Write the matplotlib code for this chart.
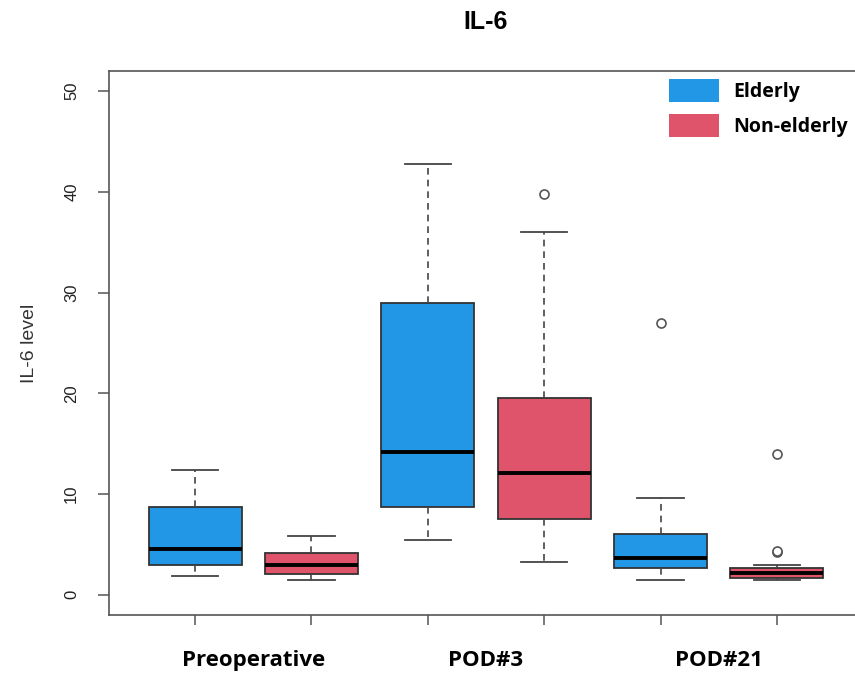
import matplotlib
matplotlib.use("Agg")
import matplotlib.pyplot as plt
from matplotlib.patches import Patch

# ---- data ----
groups = ["Preoperative", "POD#3", "POD#21"]
series = ["Elderly", "Non-elderly"]
colors = ["#2297E6", "#DF536B"]

# order: Preop-Elderly, Preop-Non, POD3-Elderly, POD3-Non, POD21-Elderly, POD21-Non
whislo = [1.9, 1.5, 5.4, 3.3, 1.5, 1.5]
q1     = [2.95, 2.05, 8.75, 7.55, 2.65, 1.66]
med    = [4.6, 2.95, 14.15, 12.1, 3.7, 2.15]
q3     = [8.75, 4.2, 29.0, 19.5, 6.0, 2.65]
whishi = [12.4, 5.85, 42.8, 36.0, 9.65, 2.95]
fliers = [[], [], [], [39.8], [27.0], [14.0, 4.3, 4.4]]

ylim = (0, 50)
yticks = [0, 10, 20, 30, 40, 50]

fig = plt.figure(figsize=(8.55, 6.8), dpi=100)
ax = fig.add_axes([109/855, 1-615/680, (863-109)/855, (615-71)/680])

stats = []
for i in range(len(med)):
    stats.append(dict(whislo=whislo[i], q1=q1[i], med=med[i], q3=q3[i],
                      whishi=whishi[i], fliers=fliers[i]))

positions = list(range(1, len(med) + 1))
edge = "#333333"
bp = ax.bxp(stats, positions=positions, widths=0.8, capwidths=0.4,
            patch_artist=True, showfliers=True,
            boxprops=dict(edgecolor=edge, linewidth=1.3),
            medianprops=dict(color="black", linewidth=2.8, solid_capstyle="butt"),
            whiskerprops=dict(color="#444444", linewidth=1.2, linestyle=(0, (4, 3))),
            capprops=dict(color="#444444", linewidth=1.3),
            flierprops=dict(marker="o", markerfacecolor="white",
                            markeredgecolor="#555555", markersize=6.5,
                            markeredgewidth=1.2, linestyle="none"))
for k, patch in enumerate(bp["boxes"]):
    patch.set_facecolor(colors[k % 2])

# R-style 4% axis extension
ax.set_xlim(0.5 - 0.04 * 6, 6.5 + 0.04 * 6)
ext = 0.04 * (ylim[1] - ylim[0])
ax.set_ylim(ylim[0] - ext, ylim[1] + ext)

for s in ax.spines.values():
    s.set_color("#555555")
    s.set_linewidth(1.2)

ax.set_yticks(yticks)
ax.set_yticklabels([str(t) for t in yticks], rotation=90, va="center",
                   family="Liberation Sans", fontsize=12, color="#222222")
ax.tick_params(axis="y", direction="out", length=8, width=1.1,
               color="#555555", pad=13.5)

ax.set_xticks(positions)
ax.set_xticklabels([])
ax.tick_params(axis="x", which="major", direction="out", length=7.5,
               width=1.1, color="#555555")
centers = [1.5, 3.5, 5.5]
ax.set_xticks(centers, minor=True)
ax.set_xticklabels(groups, minor=True, family="Open Sans",
                   fontweight="bold", fontsize=16, va="baseline")
ax.tick_params(axis="x", which="minor", length=0, pad=37)

ax.set_ylabel("IL-6 level", family="Liberation Sans", fontsize=14, color="#333333")
ax.yaxis.set_label_coords(-0.094, 0.5)

ax.set_title("IL-6", family="Liberation Sans", fontweight="bold", fontsize=18,
             y=(615-29)/544, pad=0, va="baseline")

handles = [Patch(facecolor=c, edgecolor="none", label=l) for c, l in zip(colors, series)]
fpt = 14
fs = fpt * 100 / 72
hh = (23 / fs - 0.245) / 0.65
leg = fig.legend(handles=handles, loc="upper left",
                 bbox_to_anchor=(669/855, 1-79/680), frameon=False,
                 borderpad=0, borderaxespad=0, handlelength=50/fs, handleheight=hh,
                 handletextpad=14/fs, labelspacing=12/fs,
                 prop=dict(family="Open Sans", weight="bold", size=fpt))

fig.savefig("out.png", dpi=100)
